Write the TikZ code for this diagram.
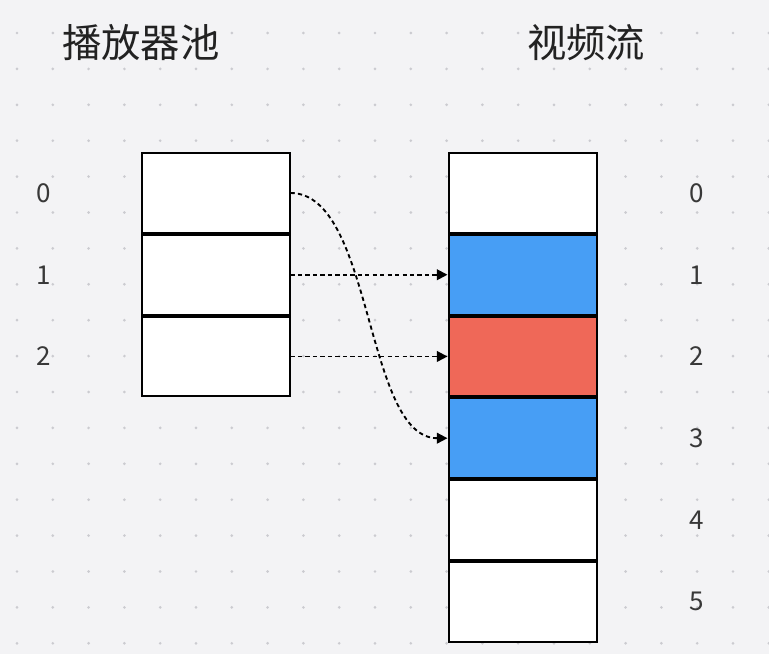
\documentclass[tikz,border=0pt]{standalone}
\usepackage{fontspec}
\setmainfont{Noto Sans CJK SC}
\usetikzlibrary{arrows.meta,positioning}
\definecolor{canvas}{HTML}{F3F3F5}
\definecolor{griddot}{HTML}{CBCBD0}
\definecolor{streamblue}{HTML}{479EF5}
\definecolor{streamred}{HTML}{EF6858}
\definecolor{ink}{HTML}{222222}

\begin{document}
\begin{tikzpicture}[
    x=0.75pt, y=-0.75pt,
    cell/.style={draw=black, line width=1.5pt, fill=white, minimum width=111pt,
                minimum height=59.8pt, inner sep=0pt},
    idx/.style={font=\fontsize{19.5}{22}\selectfont, text=ink!90, inner sep=0pt},
    title/.style={font=\fontsize{29.5}{34}\selectfont, text=ink, inner sep=0pt},
    link/.style={-{Triangle[length=8pt,width=8pt]}, line width=1.4pt,
                dash pattern=on 3.2pt off 2.4pt}]
  \fill[canvas] (0,0) rectangle (769,654);
  \useasboundingbox (0,0) rectangle (769,654);
  % dotted grid
  \foreach \i in {0,...,21}
    \foreach \j in {0,...,17}
      \fill[griddot] (17+35.8*\i, 33+35.9*\j) circle (1.1pt);
  \node[title] (pooltitle) at (141,43) {播放器池};
  \node[title] (streamtitle) at (586,43) {视频流};
  % player pool
  \node[cell] (p0) at (215.5,193) {};
  \node[cell, below=0pt of p0] (p1) {};
  \node[cell, below=0pt of p1] (p2) {};
  % video stream
  \node[cell] (s0) at (522.5,193) {};
  \node[cell, fill=streamblue, below=0pt of s0] (s1) {};
  \node[cell, fill=streamred, below=0pt of s1] (s2) {};
  \node[cell, fill=streamblue, below=0pt of s2] (s3) {};
  \node[cell, below=0pt of s3] (s4) {};
  \node[cell, below=0pt of s4] (s5) {};
  \foreach \k in {0,1,2}
    \node[idx, left=67pt of p\k] (pl\k) {\k};
  \foreach \k in {0,...,5}
    \node[idx, right=69pt of s\k] (sl\k) {\k};
  \draw[link] (p0.east) .. controls +(83,0) and +(-83,0) .. (s3.west);
  \draw[link] (p1.east) -- (s1.west);
  \draw[link] (p2.east) -- (s2.west);
\end{tikzpicture}
\end{document}
